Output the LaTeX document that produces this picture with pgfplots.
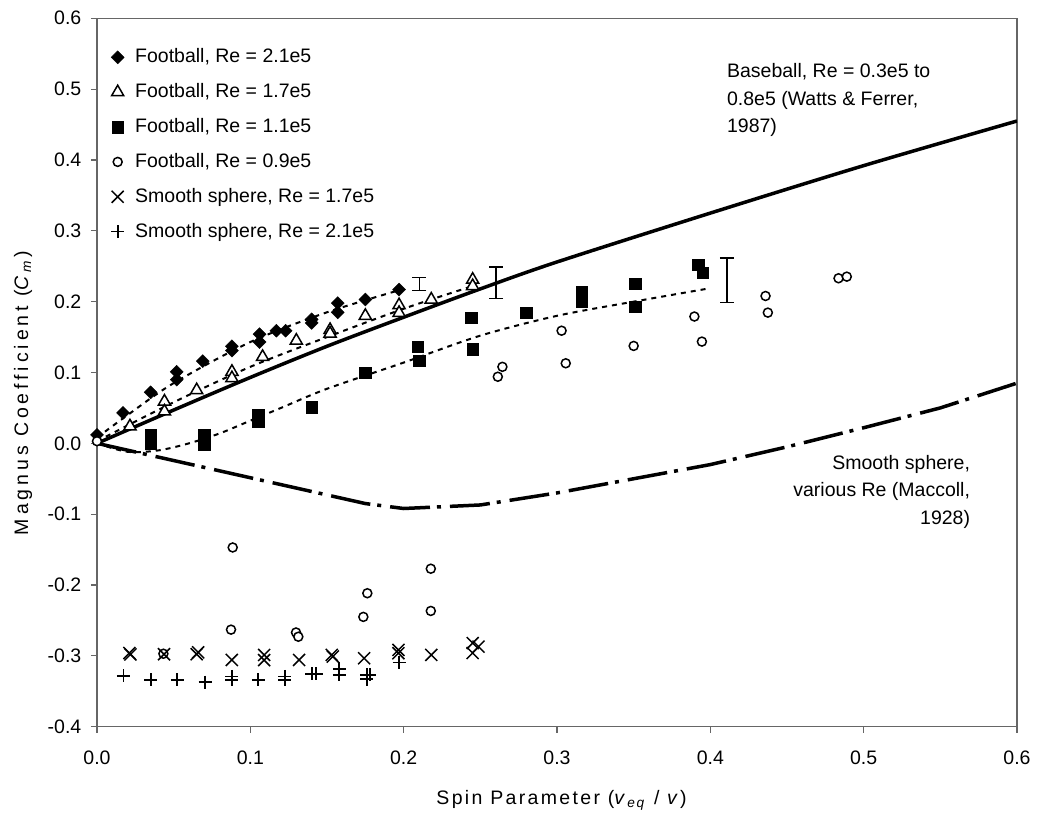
\documentclass[border=0pt]{standalone}
\usepackage{fontspec}
\setmainfont{Liberation Sans}
\newfontfamily\xlabfont{Liberation Sans}[LetterSpace=12]
\newfontfamily\ylabfont{Liberation Sans}[LetterSpace=20]
\usepackage{pgfplots}
\pgfplotsset{compat=1.18}
\begin{document}
\fontsize{19.5}{27.5}\selectfont
\begin{tikzpicture}
\path[use as bounding box] (-97pt,-99.3pt) rectangle (942pt,726.7pt);
\begin{axis}[
    at={(0pt,0pt)}, anchor=south west,
    scale only axis, width=920pt, height=708.4pt,
    xmin=0, xmax=0.6, ymin=-0.4, ymax=0.6,
    xtick={0,0.1,0.2,0.3,0.4,0.5,0.6},
    ytick={-0.4,-0.3,-0.2,-0.1,0,0.1,0.2,0.3,0.4,0.5,0.6},
    tick pos=left, tick align=outside, major tick length=6pt,
    axis line style={black!60, line width=1.2pt},
    tick style={black!60, line width=1.2pt},
    /pgf/number format/fixed, /pgf/number format/fixed zerofill,
    /pgf/number format/precision=1, /pgf/number format/assume math mode=true,
    xticklabel style={yshift=-11pt},
    yticklabel style={xshift=-3pt},
    xlabel={\xlabfont Spin Parameter (\textit{v}\textsubscript{\textit{eq}} / \textit{v})},
    ylabel={\ylabfont Magnus Coefficient (\textit{C}\textsubscript{\textit{m}})},
    xlabel style={at={(axis description cs:0.505,-0.104)}, anchor=center},
    ylabel style={at={(axis description cs:-0.0804,0.471)}, anchor=center},
    legend style={at={(axis description cs:0.0152,0.960)}, anchor=north west,
        draw=none, fill=none, row sep=13.8pt, column sep=9pt,
        cells={anchor=west}, inner sep=0pt},
]
% fitted and reference curves
\addplot[black, line width=3.5pt, smooth, forget plot] coordinates {
 (0,0) (0.05,0.047) (0.1,0.093) (0.15,0.137) (0.2,0.178) (0.25,0.218)
 (0.3,0.256) (0.4,0.325) (0.5,0.392) (0.6,0.455)};
\addplot[black, line width=3.5pt, dash pattern=on 40pt off 7pt on 4pt off 9pt, forget plot] coordinates {
 (0,0) (0.175,-0.085) (0.2,-0.092) (0.25,-0.087) (0.3,-0.07) (0.35,-0.05)
 (0.4,-0.03) (0.45,-0.005) (0.5,0.022) (0.55,0.05) (0.6,0.085)};
\addplot[black, line width=2pt, dash pattern=on 5pt off 5pt, smooth, forget plot] coordinates {
 (0,0.008) (0.02,0.04) (0.05,0.085) (0.1,0.143) (0.15,0.185) (0.2,0.218)};
\addplot[black, line width=2pt, dash pattern=on 5pt off 5pt, smooth, forget plot] coordinates {
 (0,0.003) (0.05,0.058) (0.1,0.108) (0.15,0.150) (0.2,0.190) (0.245,0.222)};
\addplot[black, line width=2pt, dash pattern=on 5pt off 5pt, smooth, forget plot] coordinates {
 (0,0) (0.02,-0.012) (0.04,-0.01) (0.06,0) (0.08,0.014) (0.1,0.032) (0.12,0.05)
 (0.15,0.077) (0.2,0.114) (0.25,0.152) (0.3,0.18) (0.35,0.2) (0.4,0.219)};
% error bars
\addplot[draw=none, mark=none, forget plot,
    error bars/.cd, y dir=both, y explicit,
    error bar style={line width=1.3pt, draw=black},
    error mark options={rotate=90, mark size=7pt, line width=1.3pt, draw=black}] coordinates {
 (0.2103,0.225) +- (0,0.0095)
 (0.2603,0.2267) +- (0,0.022)
 (0.4108,0.2302) +- (0,0.0316)};
% data
\addplot[only marks, mark=square*, mark size=4.6pt, mark options={rotate=45, fill=black, draw=black}] coordinates {
 (0.0,0.012) (0.017,0.043) (0.035,0.072) (0.052,0.101) (0.052,0.090) (0.069,0.116)
 (0.088,0.137) (0.088,0.131) (0.106,0.154) (0.106,0.143) (0.117,0.159) (0.123,0.159)
 (0.140,0.175) (0.140,0.170) (0.157,0.198) (0.157,0.185) (0.175,0.203) (0.197,0.217)};
\addlegendentry{Football, Re = 2.1e5}
\addplot[only marks, mark=triangle*, mark size=7pt, mark options={fill=white, draw=black, line width=1.5pt}] coordinates {
 (0.0215,0.024) (0.044,0.059) (0.044,0.045) (0.065,0.075) (0.088,0.101) (0.088,0.092)
 (0.108,0.122) (0.130,0.145) (0.152,0.160) (0.152,0.155) (0.175,0.180) (0.197,0.195)
 (0.197,0.184) (0.218,0.203) (0.245,0.231) (0.245,0.222)};
\addlegendentry{Football, Re = 1.7e5}
\addplot[only marks, mark=square*, mark size=5.7pt, mark options={fill=black, draw=black}] coordinates {
 (0.035,0.012) (0.035,0.0) (0.070,0.012) (0.070,-0.002) (0.105,0.040) (0.105,0.031)
 (0.140,0.051) (0.175,0.100) (0.209,0.136) (0.210,0.117) (0.244,0.177) (0.245,0.133)
 (0.280,0.184) (0.316,0.214) (0.316,0.200) (0.351,0.225) (0.351,0.193) (0.392,0.252)
 (0.395,0.241)};
\addlegendentry{Football, Re = 1.1e5}
\addplot[only marks, mark=*, mark size=4.5pt, mark options={fill=white, draw=black, line width=1.5pt}] coordinates {
 (0.0,0.003) (0.2614,0.094) (0.2644,0.108) (0.303,0.159) (0.3057,0.113) (0.350,0.1375)
 (0.3896,0.179) (0.3945,0.1436) (0.436,0.208) (0.4375,0.1845) (0.4836,0.233) (0.489,0.2353)
 (0.0885,-0.147) (0.0874,-0.263) (0.1298,-0.267) (0.1313,-0.273) (0.1737,-0.245)
 (0.1763,-0.2116) (0.2177,-0.177) (0.2177,-0.2366) (0.0433,-0.297)};
\addlegendentry{Football, Re = 0.9e5}
\addplot[only marks, mark=x, mark size=8.5pt, mark options={draw=black, line width=1.5pt}] coordinates {
 (0.0211,-0.296) (0.0218,-0.298) (0.0437,-0.2977) (0.065,-0.2977) (0.066,-0.295)
 (0.0879,-0.3058) (0.109,-0.2987) (0.109,-0.306) (0.1318,-0.3058) (0.1531,-0.2987)
 (0.1538,-0.301) (0.1742,-0.3034) (0.1966,-0.2916) (0.1966,-0.2963) (0.218,-0.2987)
 (0.245,-0.282) (0.245,-0.296) (0.2488,-0.287)};
\addlegendentry{Smooth sphere, Re = 1.7e5}
\addplot[only marks, mark=+, mark size=6.5pt, mark options={draw=black, line width=1.7pt}] coordinates {
 (0.0172,-0.3283) (0.0352,-0.334) (0.0524,-0.334) (0.0705,-0.337) (0.0879,-0.329)
 (0.0879,-0.334) (0.1052,-0.334) (0.1226,-0.329) (0.1226,-0.334) (0.140,-0.3255)
 (0.143,-0.3255) (0.158,-0.3185) (0.158,-0.327) (0.1759,-0.327) (0.1759,-0.333)
 (0.178,-0.327) (0.197,-0.3095)};
\addlegendentry{Smooth sphere, Re = 2.1e5}
\node[anchor=north west, align=left, inner sep=0pt] at (axis cs:0.4108,0.5363)
 {Baseball, Re = 0.3e5 to\\0.8e5 (Watts \& Ferrer,\\1987)};
\node[anchor=north east, align=right, inner sep=0pt] at (axis cs:0.5695,-0.0163)
 {Smooth sphere,\\various Re (Maccoll,\\1928)};
\end{axis}
\end{tikzpicture}
\end{document}
